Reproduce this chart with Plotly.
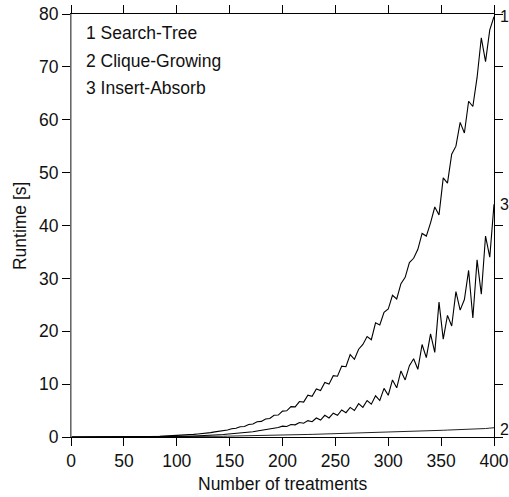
import plotly.graph_objects as go

treatments = list(range(0, 401, 4))

search_tree = [
    0, 0, 0, 0, 0, 0, 0, 0, 0, 0,
    0.01, 0.01, 0.01, 0.02, 0.03, 0.04, 0.05, 0.06, 0.07, 0.09,
    0.11, 0.13, 0.16, 0.19, 0.23, 0.27, 0.32, 0.36, 0.43, 0.49,
    0.58, 0.63, 0.75, 0.82, 0.97, 1.05, 1.24, 1.33, 1.55, 1.66,
    1.93, 2.0, 2.38, 2.45, 2.88, 2.95, 3.42, 3.5, 4.1, 4.15,
    4.9, 4.95, 5.75, 5.7, 6.7, 6.6, 7.9, 7.7, 9.1, 8.8,
    10.3, 10.0, 11.6, 11.5, 13.4, 13.3, 15.6, 14.7, 16.6, 17.5,
    19.0, 18.4, 21.6, 21.2, 23.6, 24.2, 26.8, 26.1, 29.0, 30.2,
    33.0, 33.8, 35.5, 38.5, 38.0, 40.5, 43.5, 42.0, 49.0, 48.0,
    53.5, 55.0, 59.5, 57.5, 63.5, 62.5, 68.0, 75.5, 71.0, 77.0,
    79.5,
]

clique_growing = [
    0, 0, 0, 0, 0, 0, 0, 0, 0, 0,
    0, 0, 0, 0, 0, 0.01, 0.01, 0.01, 0.01, 0.02,
    0.02, 0.02, 0.03, 0.03, 0.04, 0.04, 0.05, 0.06, 0.07, 0.07,
    0.08, 0.09, 0.1, 0.11, 0.12, 0.13, 0.14, 0.16, 0.17, 0.18,
    0.2, 0.21, 0.23, 0.24, 0.26, 0.27, 0.29, 0.31, 0.33, 0.34,
    0.36, 0.38, 0.4, 0.42, 0.44, 0.46, 0.48, 0.5, 0.52, 0.54,
    0.56, 0.58, 0.61, 0.62, 0.65, 0.67, 0.7, 0.71, 0.74, 0.76,
    0.79, 0.81, 0.84, 0.86, 0.89, 0.91, 0.94, 0.96, 1.0, 1.01,
    1.05, 1.07, 1.1, 1.13, 1.15, 1.19, 1.21, 1.25, 1.27, 1.31,
    1.33, 1.38, 1.4, 1.44, 1.46, 1.51, 1.53, 1.58, 1.6, 1.68,
    1.75,
]

insert_absorb = [
    0, 0, 0, 0, 0, 0, 0, 0, 0, 0,
    0, 0, 0, 0.01, 0.01, 0.01, 0.02, 0.02, 0.03, 0.03,
    0.04, 0.05, 0.06, 0.07, 0.08, 0.1, 0.11, 0.13, 0.15, 0.17,
    0.2, 0.23, 0.27, 0.31, 0.36, 0.42, 0.47, 0.53, 0.59, 0.66,
    0.73, 0.82, 0.9, 1.0, 1.12, 1.25, 1.38, 1.5, 1.65, 1.8,
    2.05, 2.0, 2.35, 2.3, 2.75, 2.6, 3.1, 2.9, 3.6, 3.2,
    4.1, 3.6, 4.5, 4.1, 5.1, 4.6, 5.6, 5.0, 6.3, 5.6,
    6.9, 6.2, 7.8, 6.9, 9.2, 7.9, 10.8, 9.3, 12.5, 10.8,
    13.5, 14.8, 12.8, 17.5, 15.0, 19.5, 16.0, 25.5, 18.5, 23.0,
    21.0, 27.5, 24.0, 26.0, 31.5, 22.5, 33.5, 27.0, 38.0, 34.0,
    44.0,
]

series_names = ["1 Search-Tree", "2 Clique-Growing", "3 Insert-Absorb"]
end_labels = ["1", "2", "3"]
x_ticks = [0, 50, 100, 150, 200, 250, 300, 350, 400]
y_ticks = [0, 10, 20, 30, 40, 50, 60, 70, 80]

FONT = "Liberation Sans, Arial, sans-serif"
FS = 17.5
fig = go.Figure()
for vals, col, w in [(search_tree, "black", 1.1),
                     (clique_growing, "#222222", 1.0),
                     (insert_absorb, "black", 1.1)]:
    fig.add_trace(go.Scatter(x=treatments, y=vals, mode="lines",
                             line=dict(color=col, width=w),
                             showlegend=False, hoverinfo="skip"))

axis_common = dict(ticks="outside", ticklen=8, tickwidth=1, tickcolor="black",
                   showline=True, linecolor="black", linewidth=1, mirror="ticks",
                   showgrid=False, zeroline=False, automargin=False,
                   ticklabeloverflow="allow",
                   tickfont=dict(family=FONT, size=FS, color="#111"))
fig.update_layout(
    width=509, height=497,
    margin=dict(l=71, r=14.5, t=14, b=60, autoexpand=False),
    plot_bgcolor="white", paper_bgcolor="white",
    xaxis=dict(range=[0, 400], tickvals=x_ticks, **axis_common),
    yaxis=dict(range=[0, 80], tickvals=y_ticks, **axis_common),
)
# grey left frame line as in the reference
fig.add_shape(type="line", xref="paper", yref="paper", x0=0, x1=0, y0=0, y1=1,
              line=dict(color="#8a8a8a", width=1.5), layer="above")

ph = 423.0  # plot height in px
pw = 423.5  # plot width in px
ann = []
for i, name in enumerate(series_names):
    ann.append(dict(text=name, xref="paper", yref="paper",
                    x=13 / pw, y=1 - (19 + 27.5 * i) / ph,
                    xanchor="left", yanchor="middle", showarrow=False,
                    font=dict(family=FONT, size=FS, color="#111")))
for lab, yv in zip(end_labels, [search_tree[-1], clique_growing[-1] - 0.3, insert_absorb[-1]]):
    ann.append(dict(text=lab, xref="x", yref="y", x=400, y=yv, xshift=3.5,
                    xanchor="left", yanchor="middle", showarrow=False,
                    font=dict(family=FONT, size=16, color="#111")))
ann.append(dict(text="Number of treatments", xref="paper", yref="paper",
                x=0.5, y=-47 / ph, xanchor="center", yanchor="middle",
                showarrow=False, font=dict(family=FONT, size=FS, color="#111")))
ann.append(dict(text="Runtime [s]", xref="paper", yref="paper",
                x=-51.5 / pw, y=0.5, xanchor="center", yanchor="middle",
                textangle=-90, showarrow=False,
                font=dict(family=FONT, size=FS, color="#111")))
fig.update_layout(annotations=ann)

# remove the default 8px page margin so the 509x497 figure fills the window
fig.write_html("out.html", config={"displayModeBar": False},
               post_script="document.body.style.margin='0';document.body.style.overflow='hidden';")
